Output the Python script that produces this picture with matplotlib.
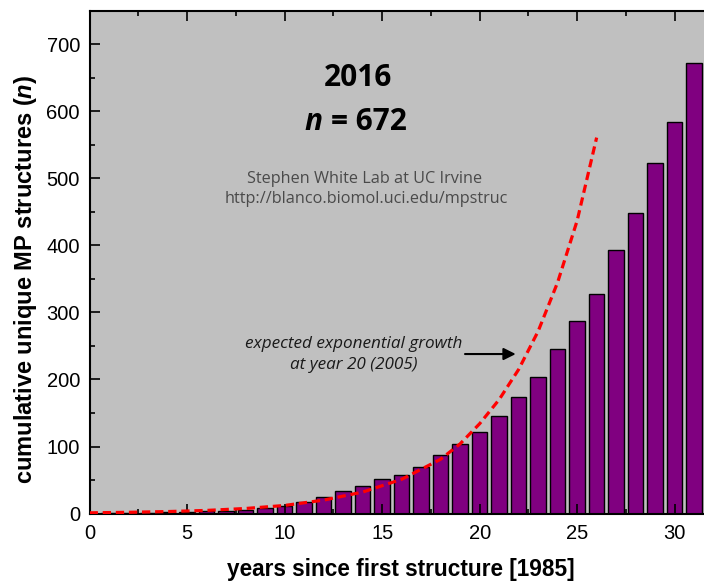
import matplotlib
matplotlib.use('Agg')
import matplotlib.pyplot as plt
from matplotlib.ticker import MultipleLocator

# cumulative unique membrane-protein structures, 1985 (year 0) .. 2016 (year 31)
years = list(range(0, 32))
counts = [1, 1, 1, 1, 2, 2, 3, 4, 5, 8, 11, 17, 25, 34, 41, 52,
          57, 70, 88, 104, 122, 146, 174, 204, 245, 288, 328, 393, 448, 523, 585, 672]

# expected exponential growth
exp_years = [0, 2, 4, 6, 8, 10, 12, 14, 16, 18, 19, 20, 21, 22, 23, 24, 25, 26]
exp_counts = [1, 1.8, 2.9, 4.6, 7.5, 12, 20, 32, 51, 81, 104, 134, 170, 215, 272, 345, 437, 561]

title_year = '2016'
title_n = '= 672'
credit = ['Stephen White Lab at UC Irvine', 'http://blanco.biomol.uci.edu/mpstruc']
note = ['expected exponential growth', 'at year 20 (2005)']


def render():
    fig = plt.figure(figsize=(7.04, 5.83), dpi=100)
    ax = fig.add_axes([0.1273, 0.1192, 0.8864, 0.862])
    ax.set_facecolor('#c0c0c0')

    ax.bar(years, counts, width=0.8, color='#800080', edgecolor='black', linewidth=1.0, zorder=1)
    ax.plot(exp_years, exp_counts, color='#ff0000', lw=2.3, dashes=(2.6, 1.5), zorder=3)

    ax.set_xlim(0, 32)
    ax.set_ylim(0, 750)
    ax.xaxis.set_major_locator(MultipleLocator(5))
    ax.xaxis.set_minor_locator(MultipleLocator(2.5))
    ax.yaxis.set_minor_locator(MultipleLocator(50))
    ax.set_yticks(range(0, 701, 100))
    ax.tick_params(which='both', direction='in', top=True, right=True, width=1.2, labelsize=14.5,
                   colors='black')
    ax.tick_params(which='major', length=7)
    ax.tick_params(which='minor', length=3.5)
    ax.tick_params(axis='x', pad=7.5)
    ax.tick_params(axis='y', pad=7)
    for lab in ax.get_xticklabels() + ax.get_yticklabels():
        lab.set_fontfamily('Liberation Sans')
    for sp in ax.spines.values():
        sp.set_linewidth(1.5)

    ax.set_xlabel('years since first structure [1985]', fontsize=16.3, fontweight='bold',
                  family='Liberation Sans', va='center')
    ax.set_ylabel('cumulative unique MP structures ($\\mathbfit{n}$)', fontsize=17,
                  fontweight='bold', family='Liberation Sans', va='center')
    ax.xaxis.set_label_coords(0.499, -0.1124)
    ax.yaxis.set_label_coords(-0.1035, 0.4667)

    tf = ax.transAxes
    ax.text(0.43, 0.851, title_year, transform=tf, ha='center', va='baseline',
            fontsize=21.5, fontweight='bold', family='Open Sans')
    ax.text(0.3724, 0.763, 'n', transform=tf, ha='right', va='baseline',
            fontsize=21.5, fontweight='bold', style='italic', family='Open Sans')
    ax.text(0.3869, 0.763, title_n, transform=tf, ha='left', va='baseline',
            fontsize=21.5, fontweight='bold', family='Open Sans')
    ax.text(0.4413, 0.665, credit[0], transform=tf, ha='center', va='center',
            fontsize=11.7, color='#4a4a4a', family='Open Sans')
    ax.text(0.4429, 0.625, credit[1], transform=tf, ha='center', va='center',
            fontsize=11.7, color='#4a4a4a', family='Open Sans')
    ax.text(0.4224, 0.337, note[0], transform=tf, ha='center', va='center',
            fontsize=12.3, style='italic', color='#1a1a1a', family='Open Sans')
    ax.text(0.4237, 0.2955, note[1], transform=tf, ha='center', va='center',
            fontsize=12.3, style='italic', color='#1a1a1a', family='Open Sans')
    ax.annotate('', xy=(21.85, 238), xytext=(19.25, 238),
                arrowprops=dict(arrowstyle='-|>', color='black', lw=1.5,
                                mutation_scale=18, shrinkA=0, shrinkB=0))

    fig.savefig('out.png', dpi=100, facecolor='white')


def main():
    plt.rcParams['mathtext.fontset'] = 'custom'
    plt.rcParams['mathtext.bfit'] = 'Liberation Sans:italic:bold'
    render()


if __name__ == '__main__':
    main()
